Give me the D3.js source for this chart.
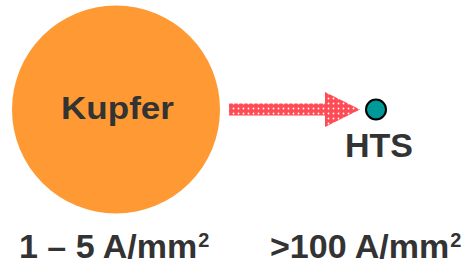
<!DOCTYPE html>
<html lang="en">
<head>
<meta charset="UTF-8">
<title>Kupfer vs HTS</title>
<script src="https://d3js.org/d3.v7.min.js"></script>
<style>
  body { margin: 0; background: #fff; }
  svg text { font-family: "Liberation Sans", Arial, sans-serif; font-weight: bold; fill: #333; }
</style>
</head>
<body>
<div id="chart"></div>
<script>
// conductors and their current densities
const conductors = ["Kupfer", "HTS"];
const radii = [104, 10];           // relative cross-section (px)
const densityLabels = ["1 – 5 A/mm", ">100 A/mm"];
const colors = ["#ff9933", "#009999"];

const width = 467, height = 264;

const svg = d3.select("#chart").append("svg")
  .attr("width", width)
  .attr("height", height);

const x = d3.scalePoint().domain(conductors).range([116, 376]);
const cy = 109.5;

// dotted fill for the arrow
const defs = svg.append("defs");
const pat = defs.append("pattern")
  .attr("id", "dots")
  .attr("patternUnits", "userSpaceOnUse")
  .attr("width", 5).attr("height", 5)
  .attr("x", 1).attr("y", 1);
pat.append("rect").attr("width", 5).attr("height", 5).attr("fill", "#ff4b55");
pat.append("circle").attr("cx", 2.5).attr("cy", 2.5).attr("r", 0.9).attr("fill", "#fff");

// circles
svg.selectAll("circle.cond")
  .data(conductors)
  .join("circle")
  .attr("class", "cond")
  .attr("cx", d => x(d))
  .attr("cy", cy)
  .attr("r", (d, i) => radii[i])
  .attr("fill", (d, i) => colors[i])
  .attr("stroke", (d, i) => i === 1 ? "#000" : "none")
  .attr("stroke-width", 2);

// arrow from copper to HTS
const ax0 = 229, ax1 = 360, shaft = 6, head = 17.5, headLen = 35;
const arrow = [
  [ax0, cy - shaft], [ax1 - headLen, cy - shaft], [ax1 - headLen, cy - head],
  [ax1, cy], [ax1 - headLen, cy + head], [ax1 - headLen, cy + shaft], [ax0, cy + shaft]
];
svg.append("path")
  .attr("d", d3.line()(arrow) + "Z")
  .attr("fill", "url(#dots)");

// names
svg.append("text")
  .attr("x", 61).attr("y", 119)
  .attr("textLength", 113)
  .attr("lengthAdjust", "spacingAndGlyphs")
  .style("font-size", "32px")
  .text("Kupfer");

svg.append("text")
  .attr("x", 345).attr("y", 157)
  .style("font-size", "34px")
  .text("HTS");

// density labels with superscript
const lx = [19, 270];
svg.selectAll("text.dens")
  .data(densityLabels)
  .join("text")
  .attr("class", "dens")
  .attr("x", (d, i) => lx[i])
  .attr("y", 258)
  .style("font-size", "34px")
  .each(function(d) {
    const t = d3.select(this);
    t.append("tspan").text(d);
    t.append("tspan").attr("dx", 1).attr("dy", -11).style("font-size", "20px").text("2");
  });
</script>
</body>
</html>
